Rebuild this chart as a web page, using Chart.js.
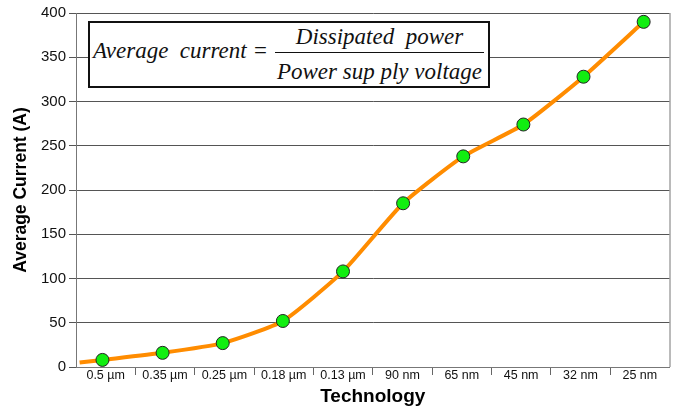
<!DOCTYPE html>
<html><head><meta charset="utf-8">
<script src="https://cdn.jsdelivr.net/npm/chart.js@4.4.1/dist/chart.umd.min.js"></script>
<style>
html,body{margin:0;padding:0;background:#fff;}
#wrap{position:relative;width:677px;height:411px;}
canvas{display:block;}
#formula{position:absolute;left:88px;top:21px;width:402px;height:67px;box-sizing:border-box;border:2px solid #111;background:#fff;font-family:"Liberation Serif","Times New Roman",serif;font-style:italic;font-size:23px;line-height:23px;color:#111;white-space:pre;}
#formula span{position:absolute;display:block;}
#lhs{left:3px;top:16px;}
#num{left:185px;width:209px;text-align:center;top:2px;}
#bar{left:185px;width:209px;top:29px;height:0;border-top:1.5px solid #111;}
#den{left:185px;width:209px;text-align:center;top:37px;}
</style></head><body>
<div id="wrap">
<canvas id="c" width="677" height="411"></canvas>
<div id="formula"><span id="lhs">Average  current =</span><span id="num">Dissipated  power</span><span id="bar"></span><span id="den">Power sup ply voltage</span></div>
</div>
<script>
const categories = ['0.5 µm','0.35 µm','0.25 µm','0.18 µm','0.13 µm','90 nm','65 nm','45 nm','32 nm','25 nm'];
const averageCurrent = [8, 16, 27, 52, 108, 185, 238, 274, 328, 390];
const leadInPosition = -0.38;
const leadInCurrent = 5;
const yMin = 0, yMax = 400, yStep = 50;

const points = [{x: leadInPosition, y: leadInCurrent}].concat(
  averageCurrent.map((v, i) => ({x: i, y: v}))
);

const frame = {
  id: 'frame',
  beforeDatasetsDraw(chart) {
    const {ctx, chartArea: a} = chart;
    ctx.save();
    ctx.strokeStyle = '#777';
    ctx.lineWidth = 1;
    ctx.beginPath();
    ctx.moveTo(a.right + 0.5, a.top);
    ctx.lineTo(a.right + 0.5, a.bottom);
    ctx.stroke();
    ctx.restore();
  }
};

const sans = '"Liberation Sans", Arial, Helvetica, sans-serif';

new Chart(document.getElementById('c'), {
  type: 'line',
  data: {
    datasets: [{
      xAxisID: 'xv',
      yAxisID: 'y',
      data: points,
      borderColor: '#FF8C00',
      borderWidth: 4,
      tension: 0.18,
      fill: false,
      pointRadius: ctx => ctx.dataIndex === 0 ? 0 : 6.5,
      pointBackgroundColor: '#11EE11',
      pointBorderColor: '#222',
      pointBorderWidth: 1
    }]
  },
  options: {
    responsive: false,
    animation: false,
    devicePixelRatio: 1,
    layout: {padding: {top: 13, right: 6, left: 0, bottom: 0}},
    plugins: {legend: {display: false}, tooltip: {enabled: false}},
    scales: {
      x: {
        type: 'category',
        labels: categories,
        offset: true,
        position: 'bottom',
        grid: {
          offset: true,
          drawOnChartArea: false,
          drawTicks: true,
          tickLength: 8,
          lineWidth: 1,
          color: ctx => (ctx.type === 'tick' && ctx.index > 0) ? '#666' : 'rgba(0,0,0,0)'
        },
        border: {display: true, color: '#777', width: 1},
        ticks: {color: '#111', font: {family: sans, size: 12.5}, padding: -7, maxRotation: 0, autoSkip: false},
        title: {display: true, text: 'Technology', color: '#000', font: {family: sans, size: 19, weight: 'bold'}, padding: {top: 0, bottom: 3}},
        afterFit: s => { s.height = 44; }
      },
      xv: {type: 'linear', display: false, min: -0.44, max: 9.43},
      y: {
        min: yMin, max: yMax,
        ticks: {stepSize: yStep, padding: 3, color: '#111', font: {family: sans, size: 15}},
        grid: {color: '#555', lineWidth: 1, tickLength: 7},
        border: {display: true, color: '#777', width: 1},
        title: {display: true, text: 'Average Current (A)', color: '#000', font: {family: sans, size: 17.5, weight: 'bold'}, padding: {top: 11, bottom: 0}},
        afterFit: s => { s.width = 76; }
      }
    }
  },
  plugins: [frame]
});
</script>
</body></html>
